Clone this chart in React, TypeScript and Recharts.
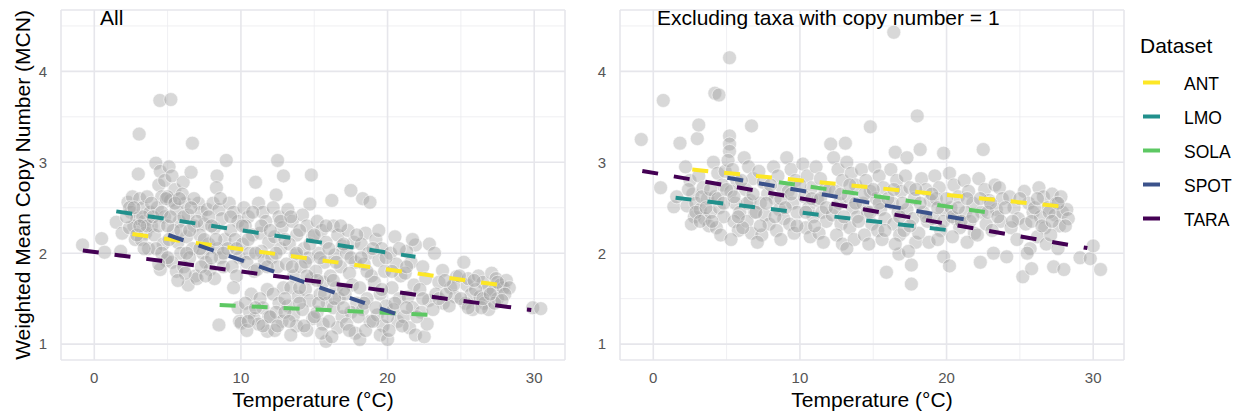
import { ScatterChart, Scatter, XAxis, YAxis, CartesianGrid } from 'recharts';

const FONT = '"Liberation Sans", Arial, Helvetica, sans-serif';

const DATASETS = ['ANT', 'LMO', 'SOLA', 'SPOT', 'TARA'];
const DATASET_COLORS = ['#FDE725', '#21908C', '#5DC863', '#3B528B', '#440154'];

const TEMP_TICKS = [0, 10, 20, 30];
const TEMP_MINOR = [5, 15, 25];
const MCN_TICKS = [1, 2, 3, 4];
const MCN_MINOR = [1.5, 2.5, 3.5, 4.5];

const PANEL_TITLES = ['All', 'Excluding taxa with copy number = 1'];

// fitted line ends per dataset (temperature, MCN), same order as DATASETS
const ALL_FIT_TEMP = [[2.6, 28.1], [1.5, 21.9], [8.55, 23.25], [5.05, 21.25], [-0.78, 29.8]];
const ALL_FIT_MCN = [[2.21, 1.64], [2.46, 1.96], [1.43, 1.32], [2.2, 1.295], [2.03, 1.375]];
const EXCL_FIT_TEMP = [[2.66, 28.1], [1.52, 20.8], [8.57, 23.2], [5.05, 21.3], [-0.75, 29.6]];
const EXCL_FIT_MCN = [[2.92, 2.51], [2.61, 2.24], [2.78, 2.44], [2.83, 2.37], [2.905, 2.056]];

// samples: [temperature, MCN]
const ALL_POINTS: [number, number][] = [
  [-0.8, 2.09], [0.5, 2.16], [0.7, 2.01], [1.5, 2.34], [1.8, 2.02], [1.9, 2.22],
  [2.3, 2.56], [2.5, 2.45], [2.6, 2.62], [2.7, 2.3], [2.8, 2.15], [2.9, 2.38], [2.4, 2.28], [2.2, 2.4],
  [3.0, 2.87], [3.1, 2.6], [3.3, 2.5], [3.4, 2.35], [3.5, 2.22], [3.6, 2.62], [3.2, 2.15], [3.8, 2.45], [3.9, 2.3], [3.7, 2.05], [3.06, 3.31],
  [4.2, 2.99], [4.5, 2.9], [4.4, 2.75], [4.6, 2.62], [4.3, 2.5], [4.8, 2.4], [4.1, 2.2], [4.7, 2.1], [4.9, 1.92], [4.5, 1.82], [4.2, 2.05], [4.47, 3.68], [4.8, 2.8],
  [5.22, 3.69], [5.1, 2.95], [5.3, 2.85], [5.5, 2.7], [5.2, 2.58], [5.6, 2.48], [5.8, 2.35], [5.4, 2.25], [5.7, 2.12], [5.9, 2.0], [5.3, 1.9], [5.6, 1.8], [5.0, 2.62],
  [6.06, 2.78], [6.6, 2.89], [6.69, 3.21], [6.2, 2.55], [6.4, 2.42], [6.8, 2.3], [6.3, 2.18], [6.7, 2.05], [6.5, 1.95], [6.1, 1.85], [6.9, 1.75], [6.4, 1.65], [6.0, 2.65],
  [7.1, 2.55], [7.3, 2.45], [7.5, 2.32], [7.2, 2.2], [7.8, 2.1], [7.4, 2.0], [7.6, 1.9], [7.9, 1.82], [7.0, 1.72], [7.7, 2.48],
  [8.37, 2.85], [8.33, 2.72], [8.1, 2.55], [8.5, 2.48], [8.7, 2.38], [8.2, 2.28], [8.9, 2.15], [8.4, 2.05], [8.6, 1.95], [8.8, 1.85], [8.5, 1.21], [8.2, 1.72],
  [9.0, 3.02], [9.2, 2.55], [9.5, 2.45], [9.8, 2.35], [9.3, 2.25], [9.6, 2.15], [9.1, 2.05], [9.9, 1.95], [9.4, 1.85], [9.7, 1.75], [9.5, 1.62], [9.8, 1.4], [9.9, 1.25],
  [10.0, 1.23], [10.2, 2.5], [10.5, 2.4], [10.3, 2.3], [10.8, 2.2], [10.1, 2.1], [10.6, 2.0], [10.4, 1.9], [10.9, 1.8], [10.7, 1.55], [10.3, 1.45], [10.6, 1.35], [10.9, 1.28], [10.4, 1.15], [11.0, 2.78],
  [11.8, 1.14], [11.2, 2.55], [11.5, 2.45], [11.7, 2.35], [11.3, 2.22], [11.9, 2.12], [11.4, 2.02], [11.6, 1.92], [11.1, 1.82], [11.8, 1.6], [11.3, 1.5], [11.5, 1.4], [11.9, 1.3], [11.2, 1.22],
  [12.4, 2.64], [12.5, 3.02], [12.9, 2.85], [12.2, 2.5], [12.6, 2.4], [12.8, 2.28], [12.3, 2.18], [12.7, 2.05], [12.1, 1.95], [12.5, 1.85], [12.9, 1.62], [12.2, 1.55], [12.6, 1.45], [12.4, 1.35], [12.8, 1.25], [12.3, 1.15],
  [13.2, 2.48], [13.5, 2.35], [13.8, 2.2], [13.3, 2.1], [13.7, 1.98], [13.1, 1.88], [13.6, 1.75], [13.4, 1.62], [13.9, 1.52], [13.2, 1.42], [13.6, 1.32], [13.8, 1.2], [13.4, 1.1],
  [14.7, 2.54], [14.8, 2.86], [14.2, 2.42], [14.5, 2.3], [14.9, 2.18], [14.3, 2.05], [14.6, 1.95], [14.1, 1.85], [14.8, 1.72], [14.4, 1.6], [14.7, 1.48], [14.2, 1.38], [14.9, 1.28], [14.5, 1.15],
  [15.2, 2.35], [15.5, 2.25], [15.8, 2.12], [15.3, 2.0], [15.7, 1.9], [15.1, 1.8], [15.6, 1.68], [15.4, 1.55], [15.9, 1.45], [15.2, 1.35], [15.6, 1.22], [15.8, 1.03], [15.5, 1.12],
  [16.2, 2.58], [16.3, 2.3], [16.6, 2.2], [16.9, 2.08], [16.4, 1.98], [16.8, 1.85], [16.1, 1.75], [16.5, 1.62], [16.7, 1.5], [16.3, 1.4], [16.9, 1.3], [16.6, 1.18], [16.2, 1.08],
  [17.5, 2.69], [17.3, 2.25], [17.7, 2.12], [17.2, 2.0], [17.8, 1.9], [17.4, 1.78], [17.6, 1.65], [17.1, 1.55], [17.9, 1.45], [17.5, 1.35], [17.2, 1.22], [17.8, 1.12],
  [18.3, 2.6], [18.8, 2.56], [18.5, 2.22], [18.2, 2.1], [18.7, 2.0], [18.4, 1.88], [18.9, 1.75], [18.1, 1.62], [18.6, 1.5], [18.3, 1.38], [18.8, 1.25], [18.1, 1.05], [18.5, 1.15],
  [19.2, 2.15], [19.6, 2.05], [19.4, 1.92], [19.8, 1.8], [19.1, 1.68], [19.5, 1.55], [19.9, 1.42], [19.3, 1.32], [19.7, 1.2], [19.5, 1.1],
  [20.5, 2.18], [20.0, 1.05], [20.2, 2.0], [20.6, 1.88], [20.9, 1.75], [20.3, 1.62], [20.8, 1.5], [20.4, 1.38], [20.7, 1.25], [20.1, 1.15],
  [21.9, 2.09], [21.3, 2.02], [21.6, 1.9], [21.2, 1.78], [21.8, 1.65], [21.4, 1.52], [21.7, 1.4], [21.1, 1.3], [21.5, 1.18], [21.9, 1.1],
  [22.85, 2.1], [22.4, 1.85], [22.6, 1.72], [22.2, 1.6], [22.8, 1.48], [22.5, 1.08], [22.3, 1.35], [22.7, 1.22],
  [23.2, 2.0], [23.75, 1.81], [23.5, 1.68], [23.3, 1.55], [23.8, 1.45], [23.1, 1.38],
  [24.7, 1.74], [24.3, 1.62], [24.6, 1.52], [24.2, 1.42],
  [25.2, 1.9], [25.4, 1.65], [25.7, 1.55], [25.3, 1.45], [25.8, 1.38], [25.5, 1.72],
  [26.2, 1.75], [26.5, 1.68], [26.8, 1.6], [26.3, 1.52], [26.6, 1.45], [26.9, 1.38], [26.4, 1.4],
  [27.1, 1.78], [27.4, 1.72], [27.7, 1.65], [27.2, 1.58], [27.5, 1.5], [27.9, 1.62], [27.3, 1.45],
  [28.1, 1.7], [28.3, 1.62], [29.9, 1.4], [30.45, 1.39],
  // denser core
  [2.4, 2.5], [2.9, 2.2], [3.3, 2.4], [3.6, 2.3], [3.9, 2.55], [4.0, 2.4], [4.4, 2.3], [4.6, 2.45], [4.9, 2.6], [5.0, 2.3],
  [5.2, 2.4], [5.5, 2.55], [5.8, 2.6], [5.1, 2.15], [5.9, 2.25], [6.1, 2.4], [6.5, 2.25], [6.8, 2.6], [6.3, 2.0], [6.6, 2.5],
  [7.0, 2.35], [7.2, 2.05], [7.5, 2.15], [7.8, 2.4], [7.3, 1.85], [8.0, 2.3], [8.3, 2.15], [8.6, 2.6], [8.8, 2.0], [8.0, 1.95],
  [4.6, 2.0], [5.0, 1.95], [3.4, 2.05], [2.7, 2.5], [3.1, 2.3], [6.2, 1.78], [7.6, 1.75], [5.7, 1.7], [4.4, 1.88],
  [9.3, 2.4], [9.7, 2.05], [10.1, 2.3], [10.5, 2.15], [10.8, 2.45], [11.0, 2.0], [11.4, 2.3], [11.8, 1.85], [12.0, 2.25], [12.4, 2.0],
  [12.7, 2.35], [13.0, 2.15], [13.4, 2.4], [13.8, 2.0], [14.0, 2.25], [14.4, 1.9], [14.7, 2.1], [15.0, 2.2], [15.4, 1.95], [15.8, 2.3],
  [16.0, 2.05], [16.5, 1.9], [16.8, 2.3], [17.0, 2.1], [17.5, 1.95], [17.9, 2.2], [18.2, 1.95], [18.6, 1.8], [19.0, 2.05], [19.4, 2.25],
  [19.9, 1.95], [20.3, 1.8], [20.8, 2.05], [21.3, 1.85], [21.7, 2.15], [15.2, 1.7], [16.3, 1.7], [13.5, 1.85], [14.5, 1.75],
  [10.5, 1.25], [11.0, 1.4], [11.5, 1.2], [12.0, 1.3], [12.5, 1.2], [13.0, 1.35], [13.3, 1.25], [14.0, 1.45], [14.3, 1.2], [15.0, 1.3],
  [15.3, 1.45], [16.0, 1.25], [16.4, 1.5], [17.0, 1.4], [17.4, 1.15], [18.0, 1.3], [18.4, 1.45], [19.0, 1.25], [19.2, 1.4], [20.0, 1.3],
  [20.5, 1.45], [21.0, 1.2], [21.3, 1.4], [22.0, 1.3], [22.4, 1.5], [15.7, 1.55], [17.0, 1.6], [19.6, 1.6], [14.0, 1.62], [13.0, 1.5],
  [23.5, 1.5], [24.0, 1.55], [24.5, 1.65], [25.0, 1.5], [25.5, 1.4], [26.0, 1.6], [26.5, 1.5], [27.0, 1.55], [27.5, 1.68], [28.0, 1.55],
  [25.9, 1.7], [27.8, 1.48], [24.9, 1.75], [23.9, 1.7],
];

const EXCL_POINTS: [number, number][] = [
  [-0.82, 3.25], [0.5, 2.72], [0.68, 3.68], [1.4, 2.51], [1.82, 3.21], [1.6, 2.62], [3.0, 3.26], [3.1, 3.41], [4.2, 3.76], [4.48, 3.74], [5.2, 4.15], [6.7, 3.4],
  [2.2, 2.95], [2.5, 2.8], [2.7, 2.65], [2.3, 2.52], [2.8, 2.4], [2.6, 2.32], [2.9, 2.55],
  [3.1, 2.85], [3.4, 2.72], [3.7, 2.6], [3.2, 2.48], [3.5, 2.38], [3.8, 2.3], [3.3, 2.62], [3.9, 2.45],
  [4.1, 3.0], [4.4, 2.88], [4.7, 2.75], [4.2, 2.62], [4.5, 2.5], [4.8, 2.4], [4.3, 2.28], [4.6, 2.2], [4.9, 2.9],
  [5.2, 3.29], [5.2, 3.2], [5.2, 3.12], [5.1, 3.02], [5.4, 2.92], [5.7, 2.8], [5.3, 2.68], [5.6, 2.55], [5.9, 2.45], [5.5, 2.35], [5.8, 2.25], [5.3, 2.15],
  [6.2, 3.05], [6.5, 2.95], [6.8, 2.82], [6.3, 2.7], [6.6, 2.58], [6.9, 2.45], [6.4, 2.35], [6.7, 2.22], [6.1, 2.28],
  [7.2, 2.9], [7.5, 2.78], [7.8, 2.65], [7.3, 2.55], [7.6, 2.42], [7.9, 2.32], [7.4, 2.2], [7.1, 2.12],
  [8.2, 2.95], [8.5, 2.85], [8.8, 2.72], [8.3, 2.6], [8.6, 2.48], [8.9, 2.38], [8.4, 2.25], [8.7, 2.15],
  [9.1, 3.05], [9.4, 2.92], [9.7, 2.8], [9.2, 2.68], [9.5, 2.55], [9.8, 2.45], [9.3, 2.32], [9.6, 2.22],
  [10.2, 2.98], [10.5, 2.85], [10.8, 2.72], [10.3, 2.62], [10.6, 2.5], [10.9, 2.4], [10.4, 2.28], [10.7, 2.18],
  [11.1, 2.95], [11.4, 2.82], [11.7, 2.7], [11.2, 2.58], [11.5, 2.45], [11.8, 2.35], [11.3, 2.22], [11.6, 2.12],
  [12.1, 3.2], [12.3, 3.05], [12.6, 2.92], [12.9, 2.8], [12.4, 2.68], [12.7, 2.55], [12.2, 2.42], [12.8, 2.32], [12.5, 2.2], [12.9, 2.1],
  [13.1, 3.21], [13.2, 3.0], [13.5, 2.88], [13.8, 2.75], [13.3, 2.62], [13.6, 2.5], [13.9, 2.4], [13.4, 2.28], [13.7, 2.15], [13.2, 2.05],
  [14.8, 3.39], [14.2, 2.92], [14.5, 2.8], [14.8, 2.68], [14.3, 2.55], [14.6, 2.45], [14.9, 2.32], [14.4, 2.2], [14.7, 2.1],
  [15.1, 2.95], [15.4, 2.85], [15.7, 2.72], [15.2, 2.6], [15.5, 2.48], [15.8, 2.38], [15.3, 2.25], [15.6, 2.15], [15.9, 1.79],
  [16.4, 4.43], [16.5, 3.11], [16.2, 2.92], [16.6, 2.8], [16.9, 2.68], [16.3, 2.55], [16.7, 2.45], [16.4, 2.32], [16.8, 2.2], [16.75, 1.99], [16.5, 2.1],
  [17.3, 3.05], [17.6, 1.66], [17.6, 1.87], [17.2, 2.85], [17.5, 2.72], [17.8, 2.6], [17.3, 2.48], [17.7, 2.38], [17.1, 2.25], [17.9, 2.12], [17.4, 2.02],
  [18.0, 3.51], [18.2, 3.14], [18.3, 2.82], [18.6, 2.7], [18.9, 2.58], [18.4, 2.45], [18.7, 2.35], [18.1, 2.22], [18.8, 2.12],
  [19.8, 3.1], [19.8, 1.96], [19.2, 2.85], [19.5, 2.72], [19.3, 2.6], [19.7, 2.48], [19.1, 2.38], [19.6, 2.25], [19.4, 2.15],
  [20.2, 1.86], [20.2, 2.88], [20.5, 2.75], [20.8, 2.62], [20.3, 2.5], [20.6, 2.38], [20.9, 2.28], [20.4, 2.18],
  [21.2, 2.8], [21.5, 2.68], [21.8, 2.55], [21.3, 2.45], [21.6, 2.35], [21.9, 2.22], [21.4, 2.12],
  [22.5, 3.14], [22.3, 1.9], [22.2, 2.82], [22.6, 2.7], [22.9, 2.58], [22.4, 2.45], [22.7, 2.32], [22.1, 2.2],
  [23.2, 2.0], [23.3, 2.75], [23.6, 2.72], [23.8, 2.6], [23.4, 2.48], [23.7, 2.35], [23.1, 2.25],
  [24.1, 1.96], [24.3, 2.62], [24.6, 2.5], [24.9, 2.38], [24.4, 2.28], [24.8, 2.15],
  [25.2, 1.74], [25.8, 1.83], [25.3, 2.68], [25.6, 2.55], [25.9, 2.45], [25.4, 2.32], [25.7, 2.05], [25.5, 2.0],
  [26.3, 2.72], [26.6, 2.62], [26.9, 2.5], [26.4, 2.4], [26.7, 2.28], [26.2, 2.18], [26.8, 2.1],
  [27.3, 1.85], [27.2, 2.65], [27.5, 2.55], [27.8, 2.62], [27.4, 2.42], [27.7, 2.3], [27.1, 2.2], [27.9, 2.45], [27.6, 2.05],
  [28.0, 1.82], [28.2, 2.48], [28.3, 2.38], [29.1, 1.95], [29.8, 1.94], [30.0, 2.08], [30.5, 1.82],
  // denser core
  [2.4, 2.7], [2.9, 2.45], [3.2, 2.35], [3.6, 2.5], [3.9, 2.7], [4.0, 2.35], [4.4, 2.6], [4.8, 2.55], [5.0, 2.7], [5.5, 2.62],
  [5.8, 2.4], [6.0, 2.8], [6.4, 2.55], [6.8, 2.65], [7.0, 2.45], [7.3, 2.3], [7.7, 2.55], [8.0, 2.75], [8.3, 2.4], [8.7, 2.6],
  [9.0, 2.5], [9.4, 2.65], [9.8, 2.3], [10.0, 2.75], [10.4, 2.45], [10.8, 2.6], [11.0, 2.3], [11.4, 2.6], [11.8, 2.5], [12.0, 2.7],
  [12.4, 2.5], [12.8, 2.65], [13.0, 2.4], [13.4, 2.75], [13.8, 2.55], [14.0, 2.35], [14.4, 2.65], [14.8, 2.45], [15.0, 2.7], [15.4, 2.55],
  [15.8, 2.25], [16.0, 2.6], [16.4, 2.7], [16.8, 2.4], [17.0, 2.55], [17.5, 2.3], [17.9, 2.7], [18.2, 2.55], [18.6, 2.4], [19.0, 2.65],
  [19.4, 2.5], [19.8, 2.35], [20.0, 2.6], [20.4, 2.4], [20.8, 2.5], [21.0, 2.35], [21.4, 2.6], [21.8, 2.4], [22.3, 2.6], [22.8, 2.45],
  [23.0, 2.55], [23.5, 2.4], [24.0, 2.5], [24.5, 2.35], [25.0, 2.6], [25.8, 2.35], [26.0, 2.5], [26.5, 2.3], [27.0, 2.45], [27.6, 2.55],
  [28.1, 2.3], [27.2, 2.35], [26.2, 2.6],
];

const TEMP_DOMAIN = [-2.27, 32.1];
const MCN_DOMAIN = [0.825, 4.675];

const tickStyle = { fill: '#555', fontSize: 15, fontFamily: FONT };
const titleStyle = { fill: '#000', fontSize: 21, fontFamily: FONT };

function Dot(props: any) {
  return <circle cx={props.cx} cy={props.cy} r={7} fill="#a3a3a3" fillOpacity={0.42} stroke="#fff" strokeOpacity={0.7} strokeWidth={0.8} />;
}

function Panel({ points, fitTemp, fitMcn, showYTitle, left, width, yAxisWidth }: {
  points: [number, number][]; fitTemp: number[][]; fitMcn: number[][]; showYTitle: boolean;
  left: number; width: number; yAxisWidth: number;
}) {
  const data = points.map(([t, m]) => ({ t, m }));
  return (
    <div style={{ position: 'absolute', left, top: 0 }}>
      <ScatterChart width={width} height={415} margin={{ top: 10, right: 10, bottom: 25, left: 0 }}>
        <CartesianGrid stroke="#ebebef" strokeWidth={0.8} horizontalValues={MCN_MINOR} verticalValues={TEMP_MINOR} />
        <CartesianGrid stroke="#e6e6eb" strokeWidth={1.6} />
        <XAxis
          type="number"
          dataKey="t"
          domain={TEMP_DOMAIN}
          ticks={TEMP_TICKS}
          allowDataOverflow
          axisLine={false}
          tickLine={false}
          tickSize={6}
          tickMargin={6}
          height={30}
          tick={tickStyle}
          label={{ value: 'Temperature (°C)', position: 'center', dy: 25, style: titleStyle }}
        />
        <YAxis
          type="number"
          dataKey="m"
          domain={MCN_DOMAIN}
          ticks={MCN_TICKS}
          allowDataOverflow
          axisLine={false}
          tickLine={false}
          tickSize={6}
          tickMargin={8}
          width={yAxisWidth}
          tick={tickStyle}
          label={showYTitle ? { value: 'Weighted Mean Copy Number (MCN)', angle: -90, position: 'center', dx: -8, style: titleStyle } : undefined}
        />
        <Scatter data={data} shape={Dot} isAnimationActive={false} />
        {DATASETS.map((name, i) => (
          <Scatter
            key={name}
            name={name}
            data={[{ t: fitTemp[i][0], m: fitMcn[i][0] }, { t: fitTemp[i][1], m: fitMcn[i][1] }]}
            line={{ stroke: DATASET_COLORS[i], strokeWidth: 4, strokeDasharray: '16 16' }}
            shape={() => <g />}
            isAnimationActive={false}
          />
        ))}
      </ScatterChart>
    </div>
  );
}

export default function App() {
  return (
    <div style={{ position: 'absolute', left: 0, top: 0, width: 1239, height: 415, background: '#fff', fontFamily: FONT }}>
      <Panel points={ALL_POINTS} fitTemp={ALL_FIT_TEMP} fitMcn={ALL_FIT_MCN} showYTitle left={0} width={575} yAxisWidth={61} />
      <Panel points={EXCL_POINTS} fitTemp={EXCL_FIT_TEMP} fitMcn={EXCL_FIT_MCN} showYTitle={false} left={560} width={574} yAxisWidth={60} />
      <svg width={1239} height={415} style={{ position: 'absolute', left: 0, top: 0, pointerEvents: 'none' }}>
        <text x={100} y={25} fontSize={21} fontFamily={FONT} fill="#000">{PANEL_TITLES[0]}</text>
        <text x={657} y={25} fontSize={21} fontFamily={FONT} fill="#000">{PANEL_TITLES[1]}</text>
        <text x={1140} y={53} fontSize={21} fontFamily={FONT} fill="#000">Dataset</text>
        {DATASETS.map((name, i) => (
          <g key={name}>
            <line x1={1143} x2={1160} y1={82.5 + i * 34} y2={82.5 + i * 34} stroke={DATASET_COLORS[i]} strokeWidth={4} />
            <text x={1184} y={89.5 + i * 34} fontSize={17.5} fontFamily={FONT} fill="#000">{name}</text>
          </g>
        ))}
      </svg>
    </div>
  );
}
